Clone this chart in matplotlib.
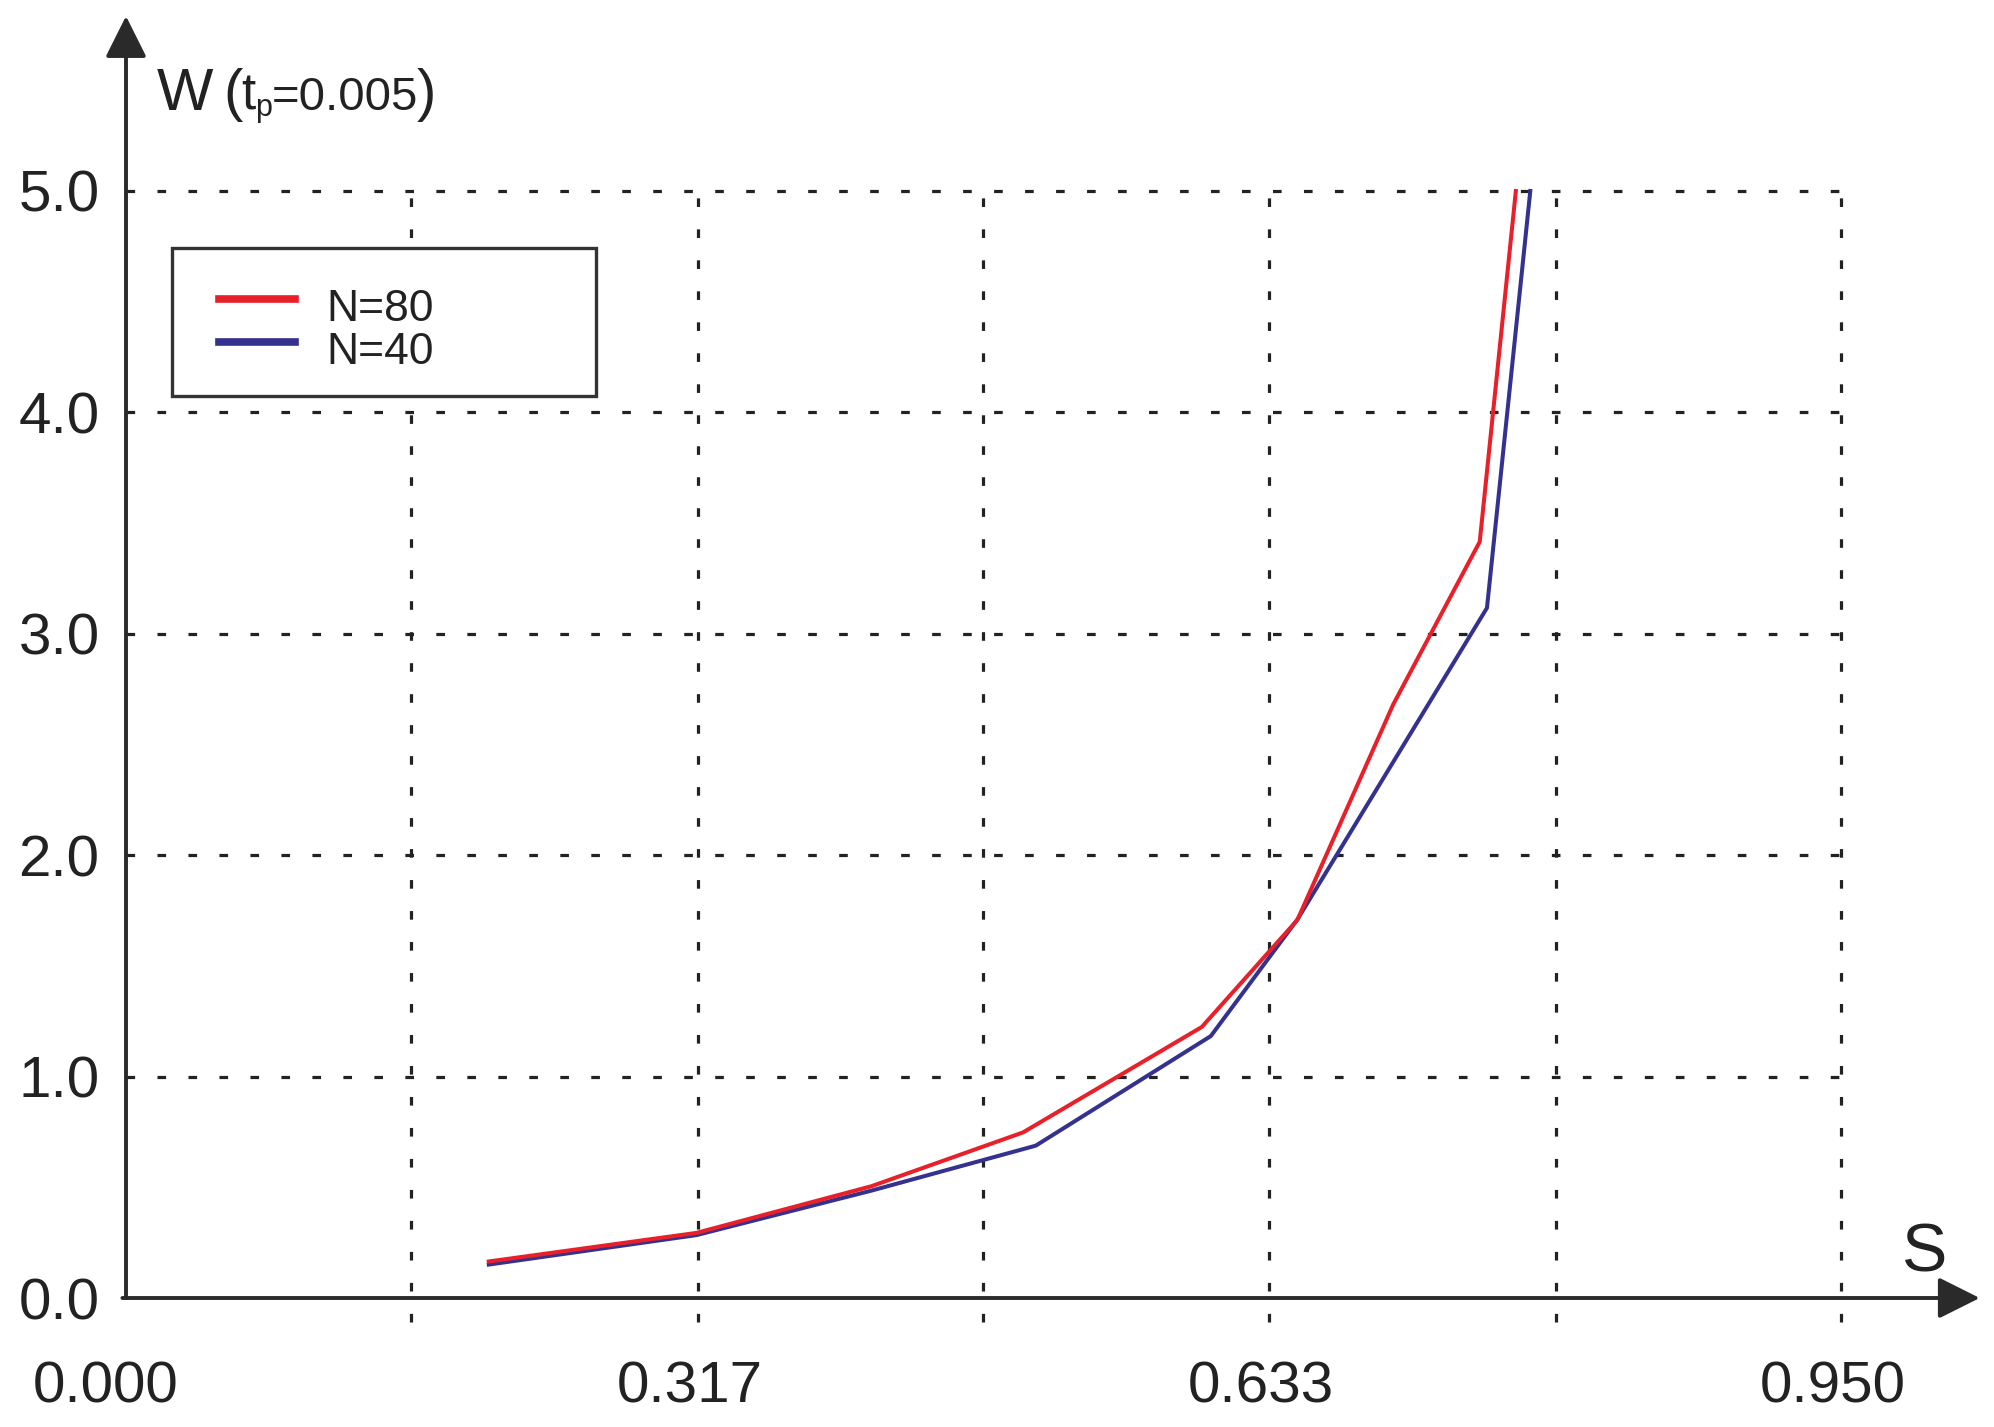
import matplotlib.pyplot as plt
from matplotlib.legend_handler import HandlerLine2D
from matplotlib.transforms import ScaledTranslation

plt.rcParams['font.family'] = ['Liberation Sans', 'DejaVu Sans']

# values
s_n80 = [0.201, 0.316, 0.413, 0.497, 0.596, 0.649, 0.702, 0.750, 0.770]
w_n80 = [0.165, 0.294, 0.505, 0.748, 1.224, 1.708, 2.68, 3.416, 5.0]
s_n40 = [0.201, 0.316, 0.413, 0.504, 0.601, 0.649, 0.754, 0.778]
w_n40 = [0.151, 0.284, 0.485, 0.688, 1.183, 1.71, 3.117, 5.0]

x_ticks = [0.000, 0.317, 0.633, 0.950]
x_ticklabels = ['0.000', '0.317', '0.633', '0.950']
x_grid = [0.158, 0.317, 0.475, 0.633, 0.792, 0.950]
y_ticks = [0, 1, 2, 3, 4, 5]
y_ticklabels = ['0.0', '1.0', '2.0', '3.0', '4.0', '5.0']

W, H = 1994, 1427
ink = '#222222'
red = '#e8202a'
blue = '#35318f'


def shift(dx, dy):
    # offset in pixels
    return ScaledTranslation(dx / 100, -dy / 100, fig.dpi_scale_trans)


fig = plt.figure(figsize=(W / 100, H / 100), dpi=100)
ax = fig.add_axes([126 / W, (H - 1298) / H, 1.035 * 1805 / W, 5.86 * 221.4 / H])
ax.set_xlim(0, 1.035)
ax.set_ylim(0, 5.86)
for sp in ax.spines.values():
    sp.set_visible(False)

# dotted grid
dots = [(0, (2.7, 7))]
ax.hlines(y_ticks[1:], 0, 0.95, colors=ink, linestyles=dots, linewidth=2.3, clip_on=False)
ax.vlines(x_grid, -0.11, 5.0, colors=ink, linestyles=dots, linewidth=2.3, clip_on=False)

# axes with arrow heads
arrow = dict(arrowstyle='-|>,head_length=0.4,head_width=0.2', mutation_scale=64,
             lw=2.8, color='#2a2a2a', shrinkA=0, shrinkB=0)
ax.annotate('', xy=(1.027, 0), xytext=(-0.002, 0), arrowprops=arrow, annotation_clip=False)
ax.annotate('', xy=(0, 5.79), xytext=(0, 0), arrowprops=arrow, annotation_clip=False)

l80, = ax.plot(s_n80, w_n80, color=red, lw=2.9, label='N=80', zorder=4)
l40, = ax.plot(s_n40, w_n40, color=blue, lw=2.9, label='N=40', zorder=3)

ax.set_xticks(x_ticks, x_ticklabels)
ax.set_yticks(y_ticks, y_ticklabels)
ax.tick_params(axis='both', length=0, labelsize=42, labelcolor=ink)
ax.tick_params(axis='x', pad=45)
ax.tick_params(axis='y', pad=19)
for i, lab in enumerate(ax.get_xticklabels()):
    lab.set_transform(lab.get_transform() + shift(-20 if i == 0 else -8, 0))

leg = ax.legend(handles=[l80, l40], loc='upper left',
                bbox_to_anchor=(172 / W, 1 - 248 / H - 0.1, 424 / W, 0.1),
                bbox_transform=fig.transFigure, mode='expand', borderaxespad=0,
                fontsize=32, handlelength=2.38, handletextpad=0.37, borderpad=0.72,
                labelspacing=0.04, fancybox=False, framealpha=1,
                handler_map={l80: HandlerLine2D(numpoints=2, marker_pad=0.333),
                             l40: HandlerLine2D(numpoints=2, marker_pad=0.333)})
fig.canvas.draw()
for h in leg.get_lines():
    h.set_linewidth(5.5)
    h.set_transform(h.get_transform() + shift(0, 3))
for t in leg.get_texts():
    t.set_color(ink)
    t.set_transform(t.get_transform() + shift(0, 9))
leg.get_frame().set_edgecolor('#333333')
leg.get_frame().set_linewidth(2.4)

# axis titles
fig.text(157 / W, 1 - 110 / H, 'W', fontsize=43, color=ink, va='baseline')
fig.text(223 / W, 1 - 110 / H, '(', fontsize=42, color=ink, va='baseline')
fig.text(241 / W, 1 - 110 / H, 't', fontsize=37, color=ink, va='baseline')
fig.text(255 / W, 1 - 116 / H, 'p', fontsize=22, color=ink, va='baseline')
fig.text(272 / W, 1 - 110 / H, '=0.005', fontsize=34, color=ink, va='baseline')
fig.text(417 / W, 1 - 110 / H, ')', fontsize=42, color=ink, va='baseline')
fig.text(1902 / W, 1 - 1272 / H, 'S', fontsize=49, color=ink, va='baseline')

fig.savefig('out.png', dpi=100, facecolor='white')
